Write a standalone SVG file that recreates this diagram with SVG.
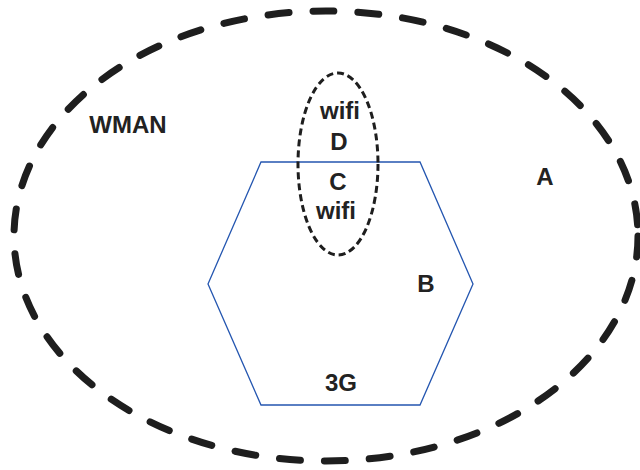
<svg xmlns="http://www.w3.org/2000/svg" width="640" height="470" viewBox="0 0 640 470">
<style>
.lbl{font-family:"Liberation Sans",Arial,sans-serif;font-weight:bold;font-size:24px;fill:#222;text-anchor:middle}
</style>
<rect width="640" height="470" fill="#fff"/>
<g id="A">
<ellipse cx="326" cy="236" rx="312" ry="225" fill="none" stroke="#1e1e1e" stroke-width="7" stroke-linecap="round" stroke-dasharray="21 24"/>
<text class="lbl" x="545" y="185">A</text>
<text class="lbl" x="128" y="133">WMAN</text>
</g>
<g id="B">
<polygon points="261,162 420,162 473,284 420,405 261,405 208,284" fill="none" stroke="#2456b0" stroke-width="1.3"/>
<text class="lbl" x="426" y="292">B</text>
<text class="lbl" x="341" y="391">3G</text>
</g>
<g id="CD">
<ellipse cx="338" cy="164" rx="40" ry="91" fill="none" stroke="#1e1e1e" stroke-width="3" stroke-dasharray="7 4"/>
<text class="lbl" x="340" y="119">wifi</text>
<text class="lbl" x="339" y="150">D</text>
<text class="lbl" x="338" y="190">C</text>
<text class="lbl" x="336" y="219">wifi</text>
</g>
<g id="connectors"/>
</svg>
